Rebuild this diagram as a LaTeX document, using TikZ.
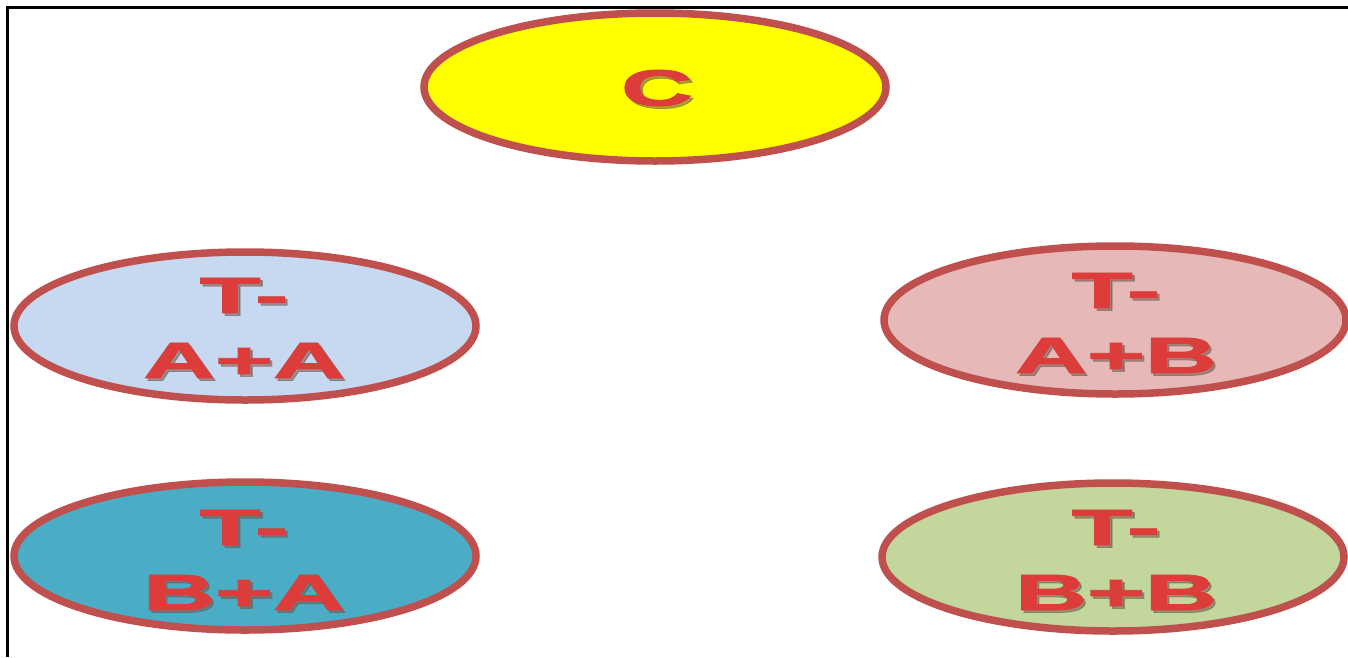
\documentclass[tikz,border=0pt]{standalone}
\usepackage{fontspec}
\setmainfont{Liberation Sans}[BoldFeatures={FakeBold=1.6}]
\usetikzlibrary{shapes.geometric}
\definecolor{rim}{HTML}{C0504D}
\definecolor{txtred}{HTML}{DC3C3A}
\definecolor{txtshadow}{HTML}{6E5A4E}
\definecolor{cyellow}{HTML}{FFFF00}
\definecolor{cblue}{HTML}{C6D9F0}
\definecolor{cpink}{HTML}{E6B9B8}
\definecolor{cteal}{HTML}{4BACC6}
\definecolor{cgreen}{HTML}{C3D69B}
\newcommand{\stretchlbl}[1]{\scalebox{1.95}[1]{\begin{tabular}{@{}c@{}}#1\end{tabular}}}
\begin{document}
\begin{tikzpicture}[x=1pt,y=-1pt,
  ell/.style={ellipse, draw=rim, line width=7.5pt, inner sep=0pt, minimum width=462pt, minimum height=148pt},
  lbl/.style={inner sep=0pt, text=txtred, font=\fontsize{51}{65}\bfseries\selectfont},
  lblshadow/.style={inner sep=0pt, text=txtshadow, opacity=0.55, font=\fontsize{51}{65}\bfseries\selectfont}]
\useasboundingbox (0,0) rectangle (1348,657);
\draw[line width=2.5pt] (7.5,657) -- (7.5,7.5) -- (1348,7.5);
% ellipses
\node[ell, fill=cyellow] (c) at (655,87) {};
\node[ell, fill=cblue] (aa) at (245,326) {};
\node[ell, fill=cpink] (ab) at (1115,320) {};
\node[ell, fill=cteal] (ba) at (245,556) {};
\node[ell, fill=cgreen] (bb) at (1113,557) {};
% shadows
\node[lblshadow] (cs) at (659.5,90.5) {\scalebox{1.95}[1]{C}};
\node[lblshadow] (aas) at (246.5,335) {\stretchlbl{T-\\A+A}};
\node[lblshadow] (abs) at (1118.5,330) {\stretchlbl{T-\\A+B}};
\node[lblshadow] (bas) at (246.5,567) {\stretchlbl{T-\\B+A}};
\node[lblshadow] (bbs) at (1118.5,567) {\stretchlbl{T-\\B+B}};
% labels
\node[lbl] (ct) at (657,88) {\scalebox{1.95}[1]{C}};
\node[lbl] (aat) at (244,332.5) {\stretchlbl{T-\\A+A}};
\node[lbl] (abt) at (1116,327.5) {\stretchlbl{T-\\A+B}};
\node[lbl] (bat) at (244,564.5) {\stretchlbl{T-\\B+A}};
\node[lbl] (bbt) at (1116,564.5) {\stretchlbl{T-\\B+B}};
\end{tikzpicture}
\end{document}
